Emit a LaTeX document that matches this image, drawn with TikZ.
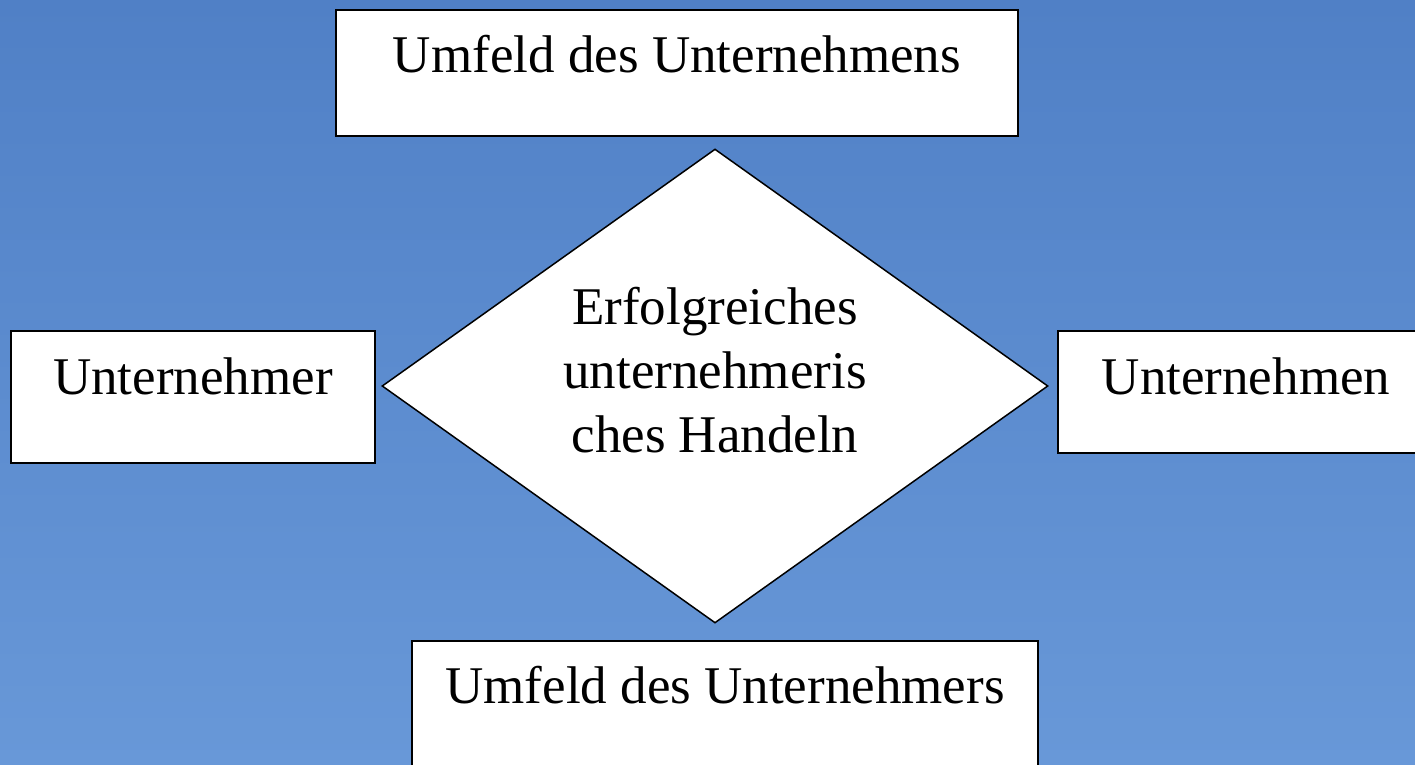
\documentclass[tikz,border=0pt]{standalone}
\usepackage{fontspec}
\setmainfont{Liberation Serif}
\usetikzlibrary{shapes.geometric}
\definecolor{skytop}{RGB}{80,128,198}
\definecolor{skybottom}{RGB}{104,152,216}
\begin{document}
\begin{tikzpicture}[x=1pt,y=-1pt]
        \tikzstyle{box} = [draw=black,fill=white,line width=1.5pt,inner sep=0pt]
        \tikzstyle{word} = [font=\fontsize{53}{64}\selectfont,align=center,inner sep=0pt]

        \useasboundingbox (0,0) rectangle (1415,765);
        \clip (0,0) rectangle (1415,765);
        \shade[top color=skytop,bottom color=skybottom] (0,0) rectangle (1415,765);

        \node[box,minimum width=682,minimum height=126] (umfeldU) at (677,73){};
        \node[box,minimum width=364,minimum height=132] (unternehmer) at (193,397){};
        \node[box,minimum width=372,minimum height=122] (unternehmen) at (1244,392){};
        \node[box,minimum width=626,minimum height=150] (umfeldUr) at (725,716){};
        \node[box,diamond,minimum width=666,minimum height=474] (handeln) at (715,386){};

        \node[word,anchor=base] (umfeldUtext) at (677,73){Umfeld des Unternehmens};
        \node[word,anchor=base] (unternehmertext) at (193,394){Unternehmer};
        \node[word,anchor=base] (unternehmentext) at (1246,394){Unternehmen};
        \node[word] (handelntext) at (715,370){Erfolgreiches\\unternehmeris\\ches Handeln};
        \node[word,anchor=base] (umfeldUrtext) at (725,703){Umfeld des Unternehmers};

    \end{tikzpicture}
\end{document}
